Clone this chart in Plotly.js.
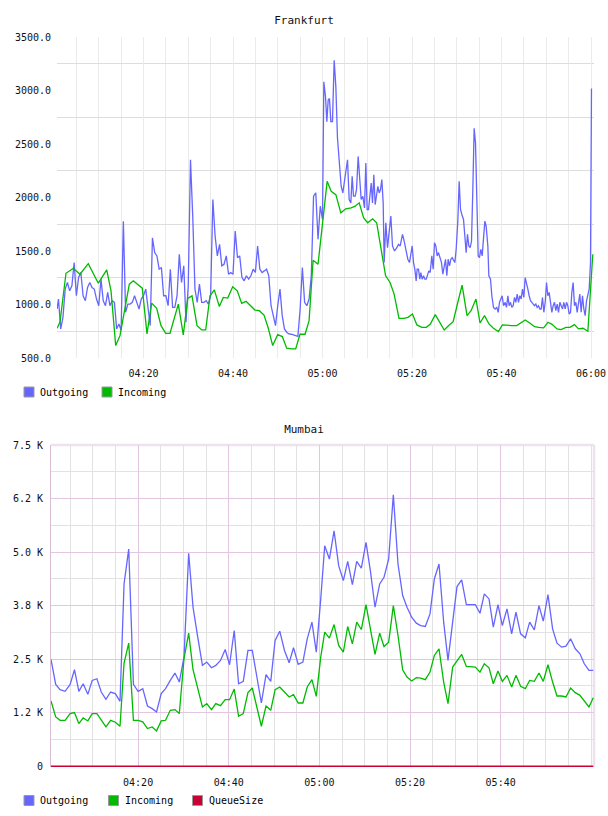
<!DOCTYPE html>
<html>
<head>
<meta charset="utf-8">
<script src="https://cdn.plot.ly/plotly-3.0.1.min.js"></script>
<style>
  html, body { margin: 0; padding: 0; background: #ffffff; }
  .chart { width: 608px; height: 408px; }
</style>
</head>
<body>
<div id="fra" class="chart"></div>
<div id="mum" class="chart"></div>
<script>
// ---- Frankfurt (minutes after 04:00, bytes/s) ----
const fraOutMinutes = [
  0.7, 1.0, 1.5, 2.0, 2.5, 3.0, 3.5, 4.0, 4.5, 5.0,
  5.5, 6.0, 6.5, 7.0, 7.5, 8.0, 8.5, 9.0, 9.5, 10.0,
  10.5, 11.0, 11.5, 12.0, 12.5, 13.0, 13.5, 14.0, 14.5, 15.0,
  15.5, 16.0, 16.5, 17.0, 17.5, 18.0, 18.5, 19.0, 19.5, 20.0,
  20.5, 21.0, 21.5, 22.0, 22.5, 23.0, 23.5, 24.0, 24.5, 25.0,
  25.5, 26.0, 26.5, 27.0, 27.5, 28.0, 28.5, 29.0, 29.5, 30.0,
  30.5, 31.0, 31.5, 32.0, 32.5, 33.0, 33.5, 34.0, 34.5, 35.0,
  35.5, 36.0, 36.5, 37.0, 37.5, 38.0, 38.5, 39.0, 39.5, 40.0,
  40.5, 41.0, 41.5, 42.0, 42.5, 43.0, 43.5, 44.0, 44.5, 45.0,
  45.5, 46.0, 46.5, 47.0, 47.5, 48.0, 48.5, 49.0, 49.5, 50.0,
  50.5, 51.0, 51.5, 52.0, 52.5, 53.0, 53.5, 54.0, 54.5, 55.0,
  55.5, 56.0, 56.5, 57.0, 57.5, 58.0, 58.5, 59.0, 59.5, 60.0,
  60.30, 60.67, 60.97, 61.27, 61.56, 61.86, 62.23, 62.61, 62.98, 63.35,
  63.72, 64.17, 64.54, 64.84, 65.21, 65.59, 65.96, 66.33, 66.63, 66.93,
  67.30, 67.60, 67.97, 68.34, 68.64, 69.01, 69.39, 69.68, 69.98, 70.28,
  70.58, 70.88, 71.17, 71.47, 71.77, 72.07, 72.37, 72.66, 72.96, 73.26,
  73.56, 73.78, 74.15, 74.53, 75.27, 75.64, 76.09, 76.61, 76.98, 77.36,
  77.88, 78.17, 78.62, 79.07, 79.44, 79.74, 80.04, 80.34, 80.63, 80.93,
  81.15, 81.45, 81.75, 81.97, 82.27, 82.57, 82.87, 83.17, 83.46, 83.76,
  84.06, 84.43, 84.73, 85.03, 85.33, 85.62, 85.92, 86.29, 86.59, 86.89,
  87.19, 87.49, 87.78, 88.08, 88.38, 88.68, 88.98, 89.27, 89.57, 89.87,
  90.24, 90.54, 90.84, 91.14, 91.51, 91.81, 92.10, 92.40, 92.70, 93.00,
  93.30, 93.59, 93.89, 94.19, 94.49, 94.79, 95.08, 95.38, 95.68, 95.98,
  96.28, 96.57, 96.95, 97.17, 97.54, 97.84, 98.21, 98.58, 98.96, 99.26,
  99.55, 99.85, 100.15, 100.45, 100.82, 101.12, 101.42, 101.71, 102.01, 102.31,
  102.61, 102.91, 103.20, 103.50, 103.80, 104.10, 104.40, 104.69, 104.99, 105.29,
  105.59, 105.89, 106.18, 106.48, 106.78, 107.08, 107.37, 107.67, 107.97, 108.27,
  108.57, 108.86, 109.16, 109.46, 109.76, 110.06, 110.35, 110.65, 110.95, 111.25,
  111.55, 111.84, 112.14, 112.44, 112.74, 113.04, 113.33, 113.63, 113.93, 114.23,
  114.53, 114.82, 115.12, 115.42, 115.72, 116.01, 116.31, 116.61, 116.91, 117.21,
  117.50, 117.80, 118.10, 118.40, 118.70, 119.00, 119.29, 119.59, 119.89, 120.11
];
const fraOutValues = [
  958, 1051, 772, 880, 1144, 1206, 1128, 1175, 1392, 1082,
  1252, 1299, 1082, 1035, 1159, 1206, 1159, 1144, 1051, 989,
  1237, 1035, 989, 1113, 989, 1035, 1020, 772, 818, 760,
  1779, 927, 1004, 1004, 1020, 1082, 1020, 958, 1051, 1082,
  1144, 989, 803, 1624, 1485, 1454, 1330, 1345, 1082, 1082,
  989, 1330, 973, 973, 1082, 1469, 1206, 1361, 834, 1175,
  2353, 1826, 1144, 1020, 1190, 1020, 1020, 1035, 1004, 1082,
  1981, 1640, 1454, 1562, 1361, 1376, 1454, 1283, 1299, 1283,
  1686, 1438, 1454, 1252, 1221, 1268, 1237, 1268, 1330, 1299,
  1547, 1330, 1299, 1314, 1330, 1268, 989, 896, 803, 989,
  1144, 896, 772, 741, 725, 722, 716, 710, 703, 958,
  1345, 1020, 989, 1051, 1268, 2012, 2043, 1609, 1919, 1795,
  3081, 2942, 2709, 2911, 2926, 2709, 2709, 3283, 3035, 2554,
  2353, 2105, 2043, 2136, 2260, 2353, 1981, 1950, 2198, 2012,
  2012, 2074, 2384, 2136, 1981, 2012, 1903, 2322, 1888, 1888,
  2043, 2136, 1950, 2213, 1934, 2012, 2105, 2043, 2074, 2167,
  1950, 1392, 1764, 1531, 1826, 1547, 1500, 1531, 1562, 1547,
  1655, 1609, 1516, 1423, 1392, 1454, 1547, 1392, 1330, 1221,
  1330, 1330, 1237, 1299, 1237, 1268, 1237, 1237, 1283, 1314,
  1299, 1454, 1330, 1578, 1547, 1454, 1485, 1438, 1392, 1283,
  1361, 1423, 1268, 1423, 1361, 1423, 1438, 1407, 1392, 1516,
  1779, 2151, 1888, 1841, 1795, 1640, 1485, 1655, 1547, 1531,
  1593, 2074, 2647, 2508, 1826, 1454, 1438, 1516, 1454, 1640,
  1779, 1733, 1547, 1268, 1237, 1082, 973, 958, 973, 927,
  1020, 1051, 1082, 989, 1020, 973, 1082, 989, 1020, 973,
  989, 1066, 1020, 1097, 1020, 1082, 1051, 1144, 1066, 1252,
  1206, 1144, 1082, 1035, 1020, 1004, 989, 1004, 973, 989,
  958, 958, 1066, 927, 1020, 1206, 1082, 1113, 1020, 927,
  989, 1020, 942, 1004, 927, 1020, 989, 958, 1020, 958,
  1020, 989, 911, 927, 1113, 1206, 989, 1020, 927, 1020,
  1097, 927, 1082, 958, 896, 1035, 1082, 1144, 1392, 3019
];
const fraInMinutes = [
  0.7, 1.34, 2.68, 4.31, 5.81, 7.66, 9.90, 11.78, 12.74, 13.79,
  14.75, 16.83, 17.72, 19.73, 20.78, 21.83, 22.95, 23.91, 24.96, 25.92,
  27.78, 28.89, 29.88, 30.84, 31.96, 33.01, 33.90, 34.86, 35.82, 36.94,
  37.83, 38.82, 39.93, 40.96, 41.94, 42.91, 44.92, 45.88, 46.93, 47.89,
  48.87, 49.99, 51.02, 52.0, 53.12, 54.01, 54.97, 56.1, 57.0, 57.9,
  59.0, 60.0, 61.04, 61.94, 62.98, 64.1, 65.2, 66.4, 67.3, 68.2,
  69.2, 70.1, 71.2, 72.1, 73.1, 74.1, 75.1, 76.0, 77.1, 78.2,
  79.1, 80.1, 81.1, 82.2, 83.2, 84.1, 85.2, 86.2, 87.2, 88.2,
  89.2, 90.2, 91.2, 92.3, 93.2, 94.3, 95.2, 96.2, 97.2, 98.2,
  99.3, 100.2, 101.3, 102.3, 103.4, 104.2, 105.3, 106.3, 107.4, 108.3,
  109.4, 110.4, 111.3, 112.4, 113.3, 114.4, 115.3, 116.3, 117.2, 118.2,
  119.3, 120.4
];
const fraInValues = [
  778, 836, 1292, 1339, 1283, 1382, 1199, 1323, 1128, 616,
  709, 1190, 1221, 1153, 725, 1013, 964, 802, 731, 731,
  1004, 716, 1057, 1081, 802, 762, 762, 1081, 1137, 982,
  1066, 1060, 1165, 1128, 1010, 1029, 948, 942, 902, 778,
  616, 718, 700, 592, 585, 585, 722, 722, 849, 1413,
  1376, 1750, 2151, 2058, 2027, 1857, 1894, 1903, 1919, 1950,
  1810, 1764, 1801, 1764, 1516, 1268, 1206, 1097, 871, 871,
  880, 911, 809, 787, 787, 818, 905, 834, 762, 803,
  840, 1014, 1181, 896, 942, 1051, 827, 896, 818, 778,
  747, 809, 803, 803, 803, 827, 855, 827, 793, 787,
  781, 834, 815, 772, 765, 787, 787, 812, 772, 778,
  750, 1469
];
const fraTimeTicks = [20, 40, 60, 80, 100, 120];
const fraTimeLabels = ['04:20', '04:40', '05:00', '05:20', '05:40', '06:00'];
const fraValueTicks = [500, 1000, 1500, 2000, 2500, 3000, 3500];
const fraValueLabels = ['500.0', '1000.0', '1500.0', '2000.0', '2500.0', '3000.0', '3500.0'];

// ---- Mumbai (minutes after 04:00) ----
const mumMinutes = [
  0.78, 1.82, 2.78, 3.89, 5.0, 5.96, 6.92, 7.88, 8.91, 9.87,
  10.91, 11.87, 12.90, 13.94, 14.97, 16.01, 16.90, 17.93, 18.97, 20.0,
  21.03, 22.07, 23.10, 24.07, 25.10, 26.06, 27.10, 28.13, 29.09, 30.13,
  31.16, 32.12, 33.16, 34.19, 35.15, 36.19, 37.15, 38.18, 39.22, 40.18,
  41.21, 42.17, 43.21, 44.24, 45.20, 46.24, 47.20, 48.23, 49.27, 50.23,
  51.26, 52.30, 53.33, 54.29, 55.33, 56.36, 57.32, 58.36, 59.32, 60.30,
  61.18, 62.21, 63.24, 64.26, 65.29, 66.25, 67.28, 68.24, 69.26, 70.29,
  71.25, 72.28, 73.31, 74.26, 75.29, 76.32, 77.35, 78.38, 79.34, 80.37,
  81.40, 82.35, 83.38, 84.41, 85.37, 86.40, 87.43, 88.38, 89.41, 90.37,
  91.40, 92.43, 93.38, 94.41, 95.44, 96.40, 97.43, 98.38, 99.41, 100.37,
  101.40, 102.43, 103.38, 104.41, 105.44, 106.40, 107.43, 108.46, 109.41, 110.44,
  111.47, 112.43, 113.46, 114.41, 115.44, 116.47, 117.50, 118.46, 119.49, 120.44
];
const mumOutValues = [
  2492, 1910, 1786, 1747, 1910, 2252, 1747, 1925, 1677, 2003,
  2042, 1731, 1561, 1731, 1693, 1514, 4255, 5070, 1910, 1747,
  1809, 1405, 1343, 1266, 1693, 1809, 2003, 2174, 1964, 2547,
  4969, 3711, 3012, 2353, 2430, 2298, 2353, 2469, 2725, 2368,
  3168, 1925, 1980, 2702, 2702, 2081, 1475, 2135, 1980, 2935,
  3152, 2702, 2415, 2764, 2376, 2430, 2974, 3362, 2663, 3900,
  5148, 4837, 5497, 4682, 4332, 4783, 4239, 4783, 4627, 5225,
  4565, 3711, 4255, 4410, 4837, 6335, 4720, 3983, 3711, 3478,
  3339, 3284, 3261, 3556, 4371, 4720, 3362, 2469, 3401, 4193,
  4348, 3773, 3773, 3773, 3571, 4022, 3905, 3245, 3773, 3284,
  3672, 3090, 3595, 3090, 2997, 3362, 3183, 3750, 3385, 4006,
  3207, 2873, 2779, 2803, 2974, 2741, 2624, 2391, 2236, 2236
];
const mumInValues = [
  1522, 1149, 1071, 1071, 1227, 1250, 994, 1126, 1056, 1227,
  1227, 1087, 916, 1071, 1025, 932, 2407, 2873, 1071, 1071,
  1033, 877, 916, 823, 1056, 1071, 1304, 1320, 1227, 2508,
  3106, 2252, 1848, 1382, 1460, 1320, 1460, 1413, 1553, 1553,
  1801, 1165, 1227, 1716, 1825, 1382, 932, 1405, 1304, 1786,
  1848, 1731, 1615, 1669, 1475, 1475, 1848, 2019, 1630, 2547,
  3129, 2989, 3307, 2818, 2663, 3261, 2857, 3362, 3191, 3773,
  3168, 2609, 3106, 2795, 2896, 3750, 3051, 2252, 2081, 1988,
  2065, 2057, 2019, 2197, 2585, 2741, 1964, 1460, 2314, 2469,
  2609, 2329, 2314, 2314, 2197, 2391, 2298, 1925, 2221, 1980,
  2120, 1848, 2120, 1863, 1809, 2003, 1980, 2174, 1980, 2368,
  1964, 1638, 1638, 1615, 1825, 1716, 1654, 1522, 1382, 1599
];
const mumQueueValues = [
  0, 0, 0, 0, 0, 0, 0, 0, 0, 0,
  0, 0, 0, 0, 0, 0, 0, 0, 0, 0,
  0, 0, 0, 0, 0, 0, 0, 0, 0, 0,
  0, 0, 0, 0, 0, 0, 0, 0, 0, 0,
  0, 0, 0, 0, 0, 0, 0, 0, 0, 0,
  0, 0, 0, 0, 0, 0, 0, 0, 0, 0,
  0, 0, 0, 0, 0, 0, 0, 0, 0, 0,
  0, 8, 14, 10, 0, 0, 0, 0, 0, 0,
  0, 0, 0, 0, 0, 0, 0, 0, 0, 0,
  0, 0, 0, 0, 0, 0, 0, 0, 0, 0,
  0, 0, 0, 0, 0, 0, 0, 0, 0, 8,
  12, 6, 0, 0, 0, 0, 0, 0, 0, 0
];
const mumTimeTicks = [20, 40, 60, 80, 100];
const mumTimeLabels = ['04:20', '04:40', '05:00', '05:20', '05:40'];
const mumValueTicks = [0, 1250, 2500, 3750, 5000, 6250, 7500];
const mumValueLabels = ['0', '1.2 K', '2.5 K', '3.8 K', '5.0 K', '6.2 K', '7.5 K'];

// ---- shared styling ----
const MONO = 'DejaVu Sans Mono, Liberation Mono, monospace';
const BLUE = '#6666ff', GREEN = '#00bb00', RED = '#cc0033';
const W = 608, H = 408;

// midpoints between consecutive ticks (minor grid positions)
function midpoints(ticks) {
  const out = [];
  for (let i = 0; i < ticks.length - 1; i++) out.push((ticks[i] + ticks[i + 1]) / 2);
  return out;
}
// every 5 minutes that is not a labelled tick
function fiveMinuteMarks(lo, hi, major) {
  const out = [];
  for (let m = Math.ceil(lo / 5) * 5; m <= hi; m += 5) if (major.indexOf(m) < 0) out.push(m);
  return out;
}
function px2x(px, m) { return (px - m.l) / (W - m.l - m.r); }
function px2y(py, m) { return (H - m.b - py) / (H - m.t - m.b); }

// square legend swatches with labels under the plot
function legend(items, top, m) {
  const shapes = [], annotations = [];
  items.forEach(it => {
    shapes.push({
      type: 'rect', xref: 'paper', yref: 'paper', layer: 'above',
      x0: px2x(it.left, m), x1: px2x(it.left + 10, m),
      y0: px2y(top + 10, m), y1: px2y(top, m),
      fillcolor: it.color, line: { color: '#999999', width: 1 }
    });
    annotations.push({
      xref: 'paper', yref: 'paper', showarrow: false,
      x: px2x(it.left + 14, m), y: px2y(top + 5, m),
      xanchor: 'left', yanchor: 'middle', text: it.name,
      font: { family: MONO, size: 10, color: '#000000' }
    });
  });
  return { shapes, annotations };
}

const cfg = { staticPlot: true, displayModeBar: false };

// ---- Frankfurt chart ----
const fraM = { l: 57, r: 14, t: 37, b: 50 };
const fraLegend = legend([
  { name: 'Outgoing', color: BLUE, left: 24 },
  { name: 'Incoming', color: GREEN, left: 102 }
], 387, fraM);

Plotly.newPlot('fra', [
  { type: 'scatter', mode: 'lines', name: 'Outgoing', x: fraOutMinutes, y: fraOutValues,
    line: { color: BLUE, width: 1.3 }, hoverinfo: 'skip' },
  { type: 'scatter', mode: 'lines', name: 'Incoming', x: fraInMinutes, y: fraInValues,
    line: { color: GREEN, width: 1.3 }, hoverinfo: 'skip' }
], {
  width: W, height: H, margin: fraM,
  paper_bgcolor: '#ffffff', plot_bgcolor: '#ffffff', showlegend: false,
  font: { family: MONO, size: 10, color: '#111111' },
  title: { text: 'Frankfurt', xref: 'container', x: 0.5, xanchor: 'center',
           yref: 'container', y: 1 - 20.5 / H, yanchor: 'middle',
           font: { family: MONO, size: 11, color: '#111111' } },
  xaxis: {
    range: [0.67, 120.67], tickmode: 'array', tickvals: fraTimeTicks, ticktext: fraTimeLabels,
    showgrid: true, gridcolor: '#ebebeb', gridwidth: 1, zeroline: false, showline: false,
    ticks: '', ticklabelstandoff: 8, tickfont: { family: MONO, size: 10, color: '#111111' },
    minor: { tickmode: 'array', tickvals: fiveMinuteMarks(0, 120, fraTimeTicks),
             showgrid: true, gridcolor: '#ebebeb', gridwidth: 1, ticks: '' }
  },
  yaxis: {
    range: [500, 3500], tickmode: 'array', tickvals: fraValueTicks, ticktext: fraValueLabels,
    showgrid: false, zeroline: false, showline: false,
    ticks: '', ticklabelstandoff: 5, tickfont: { family: MONO, size: 10, color: '#111111' },
    minor: { tickmode: 'array', tickvals: midpoints(fraValueTicks),
             showgrid: true, gridcolor: '#dddddd', gridwidth: 1, ticks: '' }
  },
  shapes: fraLegend.shapes,
  annotations: fraLegend.annotations
}, cfg);

// ---- Mumbai chart ----
const mumM = { l: 51, r: 14, t: 37, b: 49 };
const mumLegend = legend([
  { name: 'Outgoing', color: BLUE, left: 24 },
  { name: 'Incoming', color: GREEN, left: 108.5 },
  { name: 'QueueSize', color: RED, left: 192.5 }
], 387.5, mumM);

const frame = [
  { type: 'line', xref: 'paper', yref: 'paper', x0: 0, x1: 1, y0: 1, y1: 1,
    layer: 'between', line: { color: '#efe2ef', width: 2.5 } },
  { type: 'line', xref: 'paper', yref: 'paper', x0: 1, x1: 1, y0: 0, y1: 1,
    layer: 'between', line: { color: '#efe2ef', width: 2.5 } }
];

Plotly.newPlot('mum', [
  { type: 'scatter', mode: 'lines', name: 'Outgoing', x: mumMinutes, y: mumOutValues,
    line: { color: BLUE, width: 1.3 }, hoverinfo: 'skip' },
  { type: 'scatter', mode: 'lines', name: 'Incoming', x: mumMinutes, y: mumInValues,
    line: { color: GREEN, width: 1.3 }, hoverinfo: 'skip' },
  { type: 'scatter', mode: 'lines', name: 'QueueSize', x: mumMinutes, y: mumQueueValues,
    line: { color: RED, width: 1.5 }, hoverinfo: 'skip' }
], {
  width: W, height: H, margin: mumM,
  paper_bgcolor: '#ffffff', plot_bgcolor: '#ffffff', showlegend: false,
  font: { family: MONO, size: 10, color: '#111111' },
  title: { text: 'Mumbai', xref: 'container', x: 0.5, xanchor: 'center',
           yref: 'container', y: 1 - 21 / H, yanchor: 'middle',
           font: { family: MONO, size: 11, color: '#111111' } },
  xaxis: {
    range: [0.78, 120.6], tickmode: 'array', tickvals: mumTimeTicks, ticktext: mumTimeLabels,
    showgrid: true, gridcolor: '#e2c6e2', gridwidth: 1, zeroline: false, showline: false,
    ticks: '', ticklabelstandoff: 8, tickfont: { family: MONO, size: 10, color: '#111111' },
    minor: { tickmode: 'array', tickvals: fiveMinuteMarks(0, 120, mumTimeTicks),
             showgrid: true, gridcolor: '#e2e2e2', gridwidth: 1, ticks: '' }
  },
  yaxis: {
    range: [-20, 7500], tickmode: 'array', tickvals: mumValueTicks, ticktext: mumValueLabels,
    showgrid: true, gridcolor: '#e2c6e2', gridwidth: 1, zeroline: false,
    showline: true, linecolor: '#d8bcd8', linewidth: 1,
    ticks: '', ticklabelstandoff: 5, tickfont: { family: MONO, size: 10, color: '#111111' },
    minor: { tickmode: 'array', tickvals: midpoints(mumValueTicks),
             showgrid: true, gridcolor: '#e2e2e2', gridwidth: 1, ticks: '' }
  },
  shapes: frame.concat(mumLegend.shapes),
  annotations: mumLegend.annotations
}, cfg);
</script>
</body>
</html>
